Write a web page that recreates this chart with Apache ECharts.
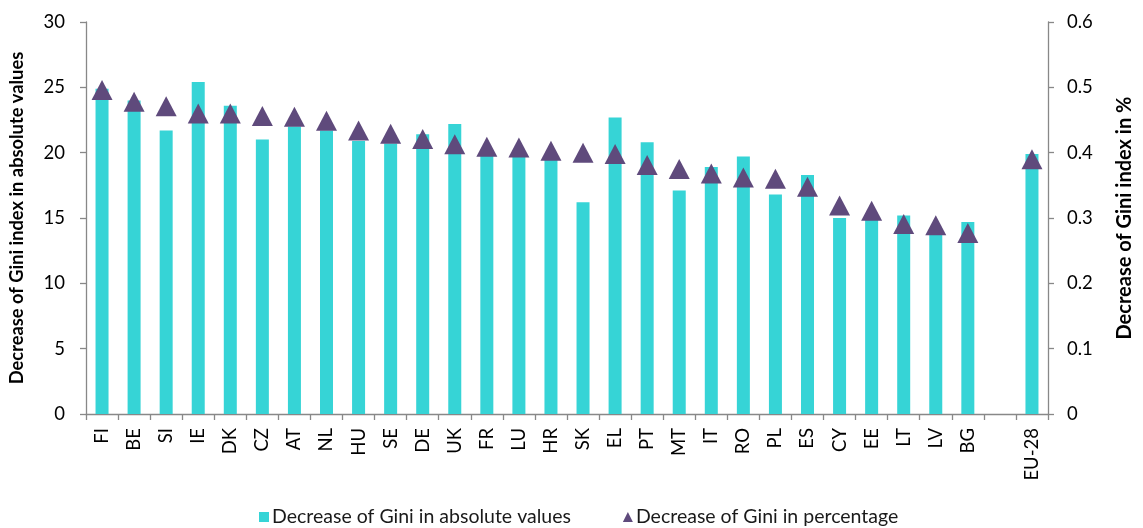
<!DOCTYPE html>
<html>
<head>
<meta charset="utf-8">
<script src="https://cdn.jsdelivr.net/npm/echarts@6/dist/echarts.min.js"></script>
<style>
  html, body { margin: 0; padding: 0; background: #fff; }
  #chart { width: 1143px; height: 528px; }
</style>
</head>
<body>
<div id="chart"></div>
<script>
// Countries ordered by percentage decrease; blank slot separates the EU aggregate
const countries = ['FI','BE','SI','IE','DK','CZ','AT','NL','HU','SE','DE','UK','FR','LU','HR','SK','EL','PT','MT','IT','RO','PL','ES','CY','EE','LT','LV','BG','','EU-28'];

// Decrease of Gini in absolute values (left axis)
const absoluteDecrease = [24.9,24.0,21.7,25.4,23.6,21.0,22.0,21.7,20.9,20.7,21.4,22.2,19.8,19.7,19.5,16.2,22.7,20.8,17.1,18.9,19.7,16.8,18.3,15.0,14.9,15.2,14.2,14.7,null,19.9];

// Decrease of Gini in percentage (right axis)
const percentDecrease = [0.496,0.478,0.471,0.460,0.460,0.456,0.455,0.449,0.434,0.429,0.421,0.413,0.409,0.408,0.403,0.400,0.398,0.381,0.375,0.368,0.362,0.360,0.348,0.319,0.311,0.291,0.289,0.277,null,0.390];

const leftTicks = { min: 0, max: 30, interval: 5 };
const rightTicks = { min: 0, max: 0.6, interval: 0.1 };

const FONT = 'Lato, "Open Sans", sans-serif';
const AXIS_GREY = '#888888';
const BAR_COLOR = '#36D4D6';
const MARKER_COLOR = '#5F4A7C';

const chart = echarts.init(document.getElementById('chart'), null, { renderer: 'canvas' });

chart.setOption({
  animation: false,
  backgroundColor: '#ffffff',
  textStyle: { fontFamily: FONT, color: '#000' },
  grid: { left: 80, right: 76, top: 22, bottom: 114, containLabel: false },
  legend: {
    left: 259,
    top: 506,
    padding: 0,
    itemWidth: 10,
    itemHeight: 10,
    itemGap: 52,
    textStyle: { fontFamily: FONT, fontSize: 19.5, lineHeight: 22, color: '#1a1a1a', padding: [0, 0, 0, -2] },
    data: [
      { name: 'Decrease of Gini in absolute values', icon: 'rect' },
      { name: 'Decrease of Gini in percentage', icon: 'triangle' }
    ]
  },
  xAxis: {
    type: 'category',
    data: countries,
    boundaryGap: true,
    axisLine: { lineStyle: { color: AXIS_GREY, width: 1.3 } },
    axisTick: { show: true, length: 6, inside: false, alignWithLabel: false, lineStyle: { color: AXIS_GREY, width: 1.3 } },
    axisLabel: { rotate: 90, margin: 14, fontFamily: FONT, fontSize: 18.5, color: '#000', interval: 0 },
    splitLine: { show: false }
  },
  yAxis: [
    {
      type: 'value',
      position: 'left',
      min: leftTicks.min, max: leftTicks.max, interval: leftTicks.interval,
      name: 'Decrease of Gini index in absolute values',
      nameLocation: 'middle',
      nameRotate: 90,
      nameGap: 60,
      nameTextStyle: { fontFamily: FONT, fontSize: 18.3, fontWeight: 'bold', color: '#000' },
      axisLine: { show: true, lineStyle: { color: AXIS_GREY, width: 1.3 } },
      axisTick: { show: true, length: 6, lineStyle: { color: AXIS_GREY, width: 1.3 } },
      axisLabel: { margin: 21, fontFamily: FONT, fontSize: 18.5, color: '#000' },
      splitLine: { show: false }
    },
    {
      type: 'value',
      position: 'right',
      min: rightTicks.min, max: rightTicks.max, interval: rightTicks.interval,
      name: 'Decrease of Gini index in %',
      nameLocation: 'middle',
      nameRotate: 90,
      nameGap: 67,
      nameTextStyle: { fontFamily: FONT, fontSize: 20, fontWeight: 'bold', color: '#000' },
      axisLine: { show: true, lineStyle: { color: AXIS_GREY, width: 1.3 } },
      axisTick: { show: true, length: 6, lineStyle: { color: AXIS_GREY, width: 1.3 } },
      axisLabel: { margin: 19, fontFamily: FONT, fontSize: 18.5, color: '#000' },
      splitLine: { show: false }
    }
  ],
  series: [
    {
      name: 'Decrease of Gini in absolute values',
      type: 'bar',
      yAxisIndex: 0,
      data: absoluteDecrease,
      barWidth: 13,
      itemStyle: { color: BAR_COLOR },
      z: 2
    },
    {
      name: 'Decrease of Gini in percentage',
      type: 'scatter',
      yAxisIndex: 1,
      data: percentDecrease,
      symbol: 'triangle',
      symbolSize: [21, 20],
      itemStyle: { color: MARKER_COLOR, opacity: 1 },
      z: 3
    }
  ]
});
</script>
</body>
</html>
